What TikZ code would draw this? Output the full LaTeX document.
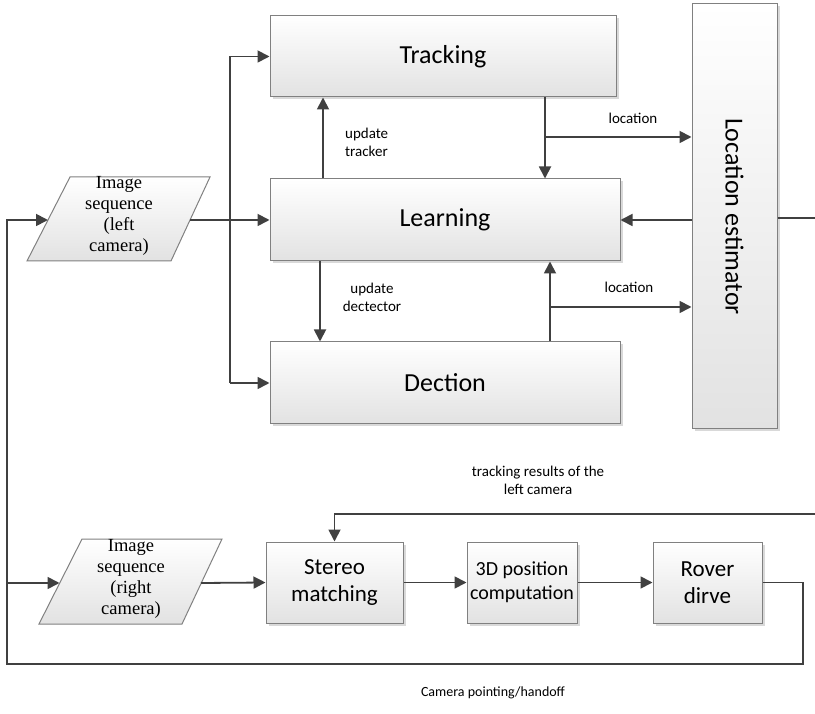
\documentclass[tikz,border=0pt]{standalone}
\usepackage{fontspec}
\setmainfont{Carlito}
\newfontfamily\imgfont{Liberation Serif}
\usetikzlibrary{arrows.meta,shadows}
\definecolor{linegray}{HTML}{404040}
\definecolor{boxgray}{HTML}{808080}
\definecolor{boxbottom}{HTML}{E2E2E2}
\begin{document}
\begin{tikzpicture}[x=1pt,y=-1pt,
  line/.style={draw=linegray, line width=1.8pt},
  arr/.style={line, -{Triangle[length=12pt,width=12pt]}},
  block/.style={draw=boxgray, line width=1pt, top color=white, bottom color=boxbottom,
    drop shadow={shadow xshift=2.5pt, shadow yshift=-2.5pt, fill=black!15, opacity=1},
    inner sep=2pt, align=center},
  para/.style={draw=boxgray, line width=1pt, top color=white, bottom color=boxbottom},
  lbl/.style={font=\fontsize{15}{18}\selectfont, inner sep=0pt},
  big/.style={font=\fontsize{26}{30}\selectfont},
  mid/.style={font=\fontsize{23}{27}\selectfont},
  imgtext/.style={font=\imgfont\fontsize{18.5}{21}\selectfont, align=center, inner sep=0pt}
]
\useasboundingbox (0,0) rectangle (815,714);

% main boxes
\node[block, big, minimum width=346pt, minimum height=81pt] (track) at (443,56.5) {Tracking};
\node[block, big, minimum width=350pt, minimum height=82pt] (learn) at (445,220) {Learning};
\node[block, big, minimum width=350pt, minimum height=82pt] (dect) at (445,383) {Dection};
\node[block, minimum width=85pt, minimum height=425pt] (loc) at (734.5,216.5) {};
\node[big, rotate=-90] (loctext) at (loc.center) {Location estimator};

\node[block, mid, minimum width=137pt, minimum height=81pt] (stereo) at (334.5,582.5) {Stereo\\matching};
\node[block, font=\fontsize{20}{24}\selectfont, minimum width=110pt, minimum height=81pt] (pos) at (522,582.5) {3D position\\computation};
\node[block, mid, minimum width=109pt, minimum height=81pt] (rover) at (707.5,582.5) {Rover\\dirve};

% parallelograms
\path[para] (27,261) -- (70,177) -- (210,177) -- (171,261) -- cycle;
\node[imgtext] (imgL) at (119,216) {Image\\sequence\\(left\\camera)};
\path[para] (39,624) -- (82,539) -- (222,539) -- (182,624) -- cycle;
\node[imgtext] (imgR) at (131,579) {Image\\sequence\\(right\\camera)};

\coordinate (imgLin) at (48,220);
\coordinate (imgLout) at (190,220);
\coordinate (imgRin) at (59.5,583);
\coordinate (imgRout) at (201,583);

% left bus
\coordinate (busT) at (230,56.5);
\coordinate (busB) at (230,383);
\draw[line] (busT) -- (busB);
\draw[arr] (busT) -- (track.west);
\draw[arr] (busB) -- (dect.west);
\draw[arr] (imgLout) -- (learn.west);

% tracking <-> learning
\draw[arr] ([xshift=102pt]track.south) -- ([xshift=100pt]learn.north);
\coordinate (j1) at (545,137);
\draw[arr] (j1) -- (j1 -| loc.west);
\draw[arr] ([xshift=-122pt]learn.north) -- ([xshift=-120pt]track.south);
\node[lbl, align=left, anchor=west] (ut) at (345,142) {update\\tracker};
\node[lbl] (locA) at (633,118) {location};

% detection <-> learning
\draw[arr] ([xshift=105pt]dect.north) -- ([xshift=105pt]learn.south);
\coordinate (j2) at (550,307);
\draw[arr] (j2) -- (j2 -| loc.west);
\draw[arr] ([xshift=-125pt]learn.south) -- ([xshift=-125pt]dect.north);
\node[lbl, align=center] (ud) at (372,297) {update\\dectector};
\node[lbl] (locB) at (629,287) {location};

% location estimator
\draw[arr] (loc.west |- learn.east) -- (learn.east);
\coordinate (edgeA) at (815,218);
\draw[line] (loc.east |- edgeA) -- (edgeA);

% tracking results
\coordinate (edgeB) at (815,514);
\draw[arr] (edgeB) -- (stereo.north |- edgeB) -- (stereo.north);
\node[lbl, align=center] (tr) at (538,480) {tracking results of the\\left camera};

% bottom chain
\draw[arr] (imgRout) -- (stereo.west);
\draw[arr] (stereo.east) -- (pos.west);
\draw[arr] (pos.east) -- (rover.west);

% feedback loop
\coordinate (lr) at (803,664);
\coordinate (ll) at (7,664);
\draw[arr] (rover.east) -| (lr) -- (ll) |- (imgLin);
\draw[arr] (ll |- imgRin) -- (imgRin);
\node[font=\fontsize{14}{17}\selectfont, inner sep=0pt] (cam) at (493,693) {Camera pointing/handoff};
\end{tikzpicture}
\end{document}
